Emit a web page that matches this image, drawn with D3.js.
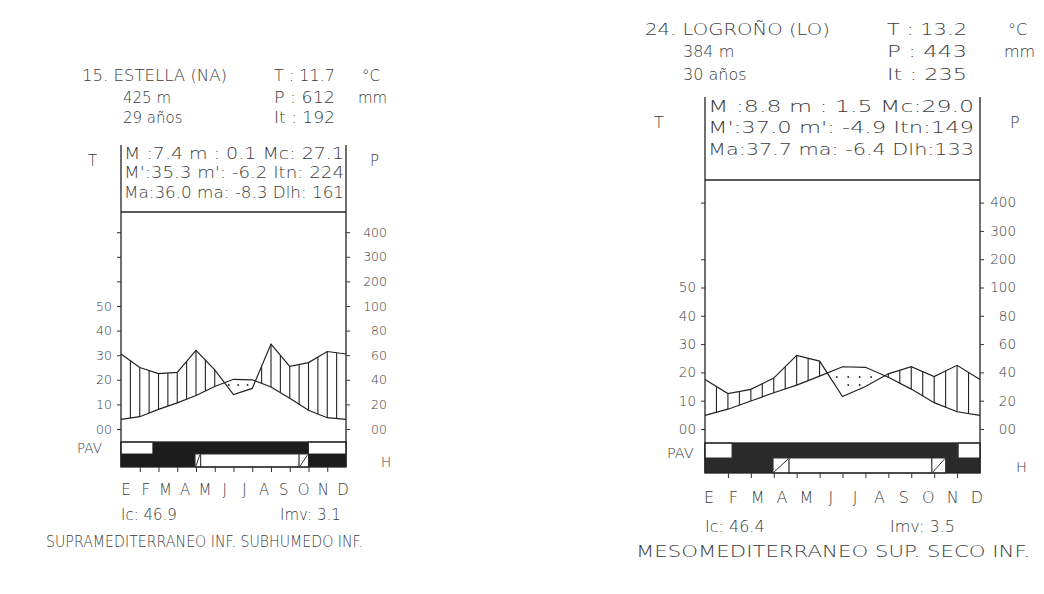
<!DOCTYPE html>
<html>
<head>
<meta charset="utf-8">
<script src="https://cdn.jsdelivr.net/npm/d3@7/dist/d3.min.js"></script>
<style>
body { margin: 0; background: #fff; }
svg text { font-family: "DejaVu Sans", sans-serif; font-weight: 200; fill: #3c3c3c; }
</style>
</head>
<body>
<div id="chart"></div>
<script>
// month letters (Spanish) and axis ticks
var months = ["E", "F", "M", "A", "M", "J", "J", "A", "S", "O", "N", "D"];
var tempTicks = [0, 10, 20, 30, 40, 50, 60, 70, 80];
var tempLabels = ["00", "10", "20", "30", "40", "50", "", "", ""];
var precTicks = [0, 20, 40, 60, 80, 100, 200, 300, 400];
var precLabels = ["00", "20", "40", "60", "80", "100", "200", "300", "400"];

// 15. Estella
var estellaTemp = [3.9, 5.0, 8.0, 10.6, 13.6, 17.3, 20.2, 20.0, 17.1, 12.5, 7.6, 4.6];
var estellaPrec = [61, 50, 45, 46, 64, 48, 28, 33, 69, 51, 54, 63];
var estellaHead = ["15. ESTELLA (NA)", "425 m", "29 años"];
var estellaStats = ["T : 11.7", "P : 612", "It : 192"];
var estellaBox = ["M :7.4  m : 0.1  Mc: 27.1", "M':35.3 m': -6.2 Itn: 224", "Ma:36.0 ma: -8.3 Dlh: 161"];
var estellaFoot = ["Ic: 46.9", "Imv: 3.1", "SUPRAMEDITERRANEO INF. SUBHUMEDO INF."];
// PAV row and frost row, in months: [from, to, kind]
var estellaPav = [[0, 1.7, "w"], [1.7, 10, "k"], [10, 12, "w"]];
var estellaFrost = [[0, 3.95, "k"], [3.95, 4.25, "h"], [4.25, 9.5, "w"], [9.5, 10, "h"], [10, 12, "k"]];

// 24. Logroño
var logronoTemp = [4.8, 7.0, 9.9, 12.8, 15.5, 18.7, 22.0, 21.8, 18.3, 14.1, 9.3, 6.1];
var logronoPrec = [35, 25, 28, 36, 52, 48, 23, 30, 39, 44, 37, 45];
var logronoHead = ["24. LOGROÑO (LO)", "384 m", "30 años"];
var logronoStats = ["T : 13.2", "P : 443", "It : 235"];
var logronoBox = ["M :8.8  m : 1.5  Mc:29.0", "M':37.0 m': -4.9 Itn:149", "Ma:37.7 ma: -6.4 Dlh:133"];
var logronoFoot = ["Ic: 46.4", "Imv: 3.5", "MESOMEDITERRANEO SUP. SECO INF."];
var logronoPav = [[0, 1.18, "w"], [1.18, 11.05, "k"], [11.05, 12, "w"]];
var logronoFrost = [[0, 2.97, "k"], [2.97, 3.67, "h"], [3.67, 9.9, "w"], [9.9, 10.5, "h"], [10.5, 12, "k"]];

var svg = d3.select("#chart").append("svg")
    .attr("width", 1044)
    .attr("height", 594);

function interp(vals, m) {
    var v = vals.concat([vals[0]]); // curve closes back on January
    var i = Math.min(Math.floor(m), 11);
    var f = m - i;
    return v[i] * (1 - f) + v[i + 1] * f;
}

function drawChart(c) {
    var g = svg.append("g");
    var x = d3.scaleLinear().domain([0, 12]).range([c.x0, c.x1]);
    var yT = d3.scaleLinear().domain([0, 80]).range([c.y0, c.y0 - 8 * c.step]);
    var yP = d3.scaleLinear().domain([0, 100, 400]).range([c.y0, c.y0 - 5 * c.step, c.y0 - 8 * c.step]);
    var fs = c.fs;

    // header texts
    function txt(s, tx, ty, size, len) {
        var t = g.append("text").attr("x", tx).attr("y", ty).style("font-size", size + "px").text(s);
        if (len) t.attr("textLength", len).attr("lengthAdjust", "spacingAndGlyphs");
        return t;
    }
    txt(c.head[0], c.titleX, c.rowY[0], fs, c.titleLen);
    txt(c.head[1], c.subX, c.rowY[1], fs);
    txt(c.head[2], c.subX, c.rowY[2], fs);
    c.stats.forEach(function(s, i) { txt(s, c.statX, c.rowY[i], fs, c.statLen); });
    txt("°C", c.unitX, c.rowY[0], fs);
    txt("mm", c.unitX - 4, c.rowY[1], fs);
    txt("T", c.tX, c.tY, fs);
    txt("P", c.pX, c.tY, fs);
    c.box.forEach(function(s, i) { txt(s, c.x0 + 3, c.boxY[i], fs, c.boxLen); });

    // frame
    var ln = function(x1, y1, x2, y2) {
        g.append("line").attr("x1", x1).attr("y1", y1).attr("x2", x2).attr("y2", y2)
            .attr("stroke", "#222").attr("stroke-width", 1.3);
    };
    ln(c.x0, c.boxTop, c.x0, c.barBot);
    ln(c.x1, c.boxTop, c.x1, c.barBot);
    ln(c.x0, c.headLine, c.x1, c.headLine);

    // hatching where precipitation is above temperature
    var half = [];
    for (var k = 1; k < 24; k++) half.push(k / 2);
    half.forEach(function(m) {
        var pt = yT(interp(c.temp, m)), pp = yP(interp(c.prec, m));
        if (pp < pt - 1) {
            g.append("line").attr("x1", x(m)).attr("x2", x(m)).attr("y1", pp).attr("y2", pt)
                .attr("stroke", "#222").attr("stroke-width", 1.1);
        }
    });
    // dots where temperature is above precipitation
    for (var m = 0.25; m < 12; m += 0.5) {
        var pt = yT(interp(c.temp, m)), pp = yP(interp(c.prec, m));
        for (var yy = c.y0 - 4; yy > pt; yy -= 8) {
            if (yy > pt + 3 && yy < pp - 3) {
                g.append("circle").attr("cx", x(m)).attr("cy", yy).attr("r", 1).attr("fill", "#333");
            }
        }
    }

    // curves
    var idx = d3.range(13);
    g.append("path")
        .attr("d", d3.line().x(function(i) { return x(i); }).y(function(i) { return yT(c.temp[i % 12]); })(idx))
        .attr("fill", "none").attr("stroke", "#222").attr("stroke-width", 1.2);
    g.append("path")
        .attr("d", d3.line().x(function(i) { return x(i); }).y(function(i) { return yP(c.prec[i % 12]); })(idx))
        .attr("fill", "none").attr("stroke", "#222").attr("stroke-width", 1.2);

    // axes
    var aL = g.append("g").attr("transform", "translate(" + c.x0 + ",0)")
        .call(d3.axisLeft(yT).tickValues(c.tTicks).tickSize(4).tickPadding(5)
            .tickFormat(function(d) { return tempLabels[tempTicks.indexOf(d)]; }));
    var aR = g.append("g").attr("transform", "translate(" + c.x1 + ",0)")
        .call(d3.axisRight(yP).tickValues(precTicks).tickSize(4)
            .tickFormat(function(d, i) { return precLabels[i]; }));
    [aL, aR].forEach(function(a) {
        a.select(".domain").remove();
        a.attr("font-family", null).attr("font-size", null).style("color", "#333");
        a.selectAll("text").style("font-size", c.afs + "px");
    });
    aR.selectAll("text").attr("x", c.pLabOff).attr("text-anchor", "end");

    // PAV and frost bars
    function bars(rows, y1, y2) {
        rows.forEach(function(r) {
            g.append("rect").attr("x", x(r[0])).attr("y", y1).attr("width", x(r[1]) - x(r[0])).attr("height", y2 - y1)
                .attr("fill", r[2] == "k" ? c.dark : "#fff").attr("stroke", r[2] == "k" ? "none" : "#333").attr("stroke-width", 1);
            if (r[2] == "h") {
                g.append("line").attr("x1", x(r[0]) + 1).attr("y1", y2 - 1).attr("x2", x(r[1]) - 1).attr("y2", y1 + 1)
                    .attr("stroke", "#333").attr("stroke-width", 1);
            }
        });
    }
    bars(c.pav, c.barTop, c.barMid);
    bars(c.frost, c.barMid, c.barBot);
    g.append("rect").attr("x", c.x0).attr("y", c.barTop).attr("width", c.x1 - c.x0).attr("height", c.barBot - c.barTop)
        .attr("fill", "none").attr("stroke", "#222").attr("stroke-width", 1.3);

    var aB = g.append("g").attr("transform", "translate(0," + c.barBot + ")")
        .call(d3.axisBottom(x).tickValues(d3.range(1, 12)).tickSize(5).tickFormat(""));
    aB.select(".domain").remove();
    aB.style("color", "#333");

    txt("PAV", c.pavX, c.pavY, c.afs + 1);
    txt("H", c.hX, c.hY, c.afs + 1);

    var xm = d3.scalePoint().domain(d3.range(12)).range([c.mx0, c.mx1]);
    g.selectAll(".mon").data(months).enter().append("text")
        .attr("x", function(d, i) { return xm(i); })
        .attr("y", c.monY)
        .attr("text-anchor", "middle")
        .style("font-size", (c.afs + 2.5) + "px")
        .text(function(d) { return d; });

    txt(c.foot[0], c.x0, c.icY, fs);
    txt(c.foot[1], c.imvX, c.icY, fs);
    txt(c.foot[2], c.clsX, c.clsY, fs, c.clsLen);
}

drawChart({
    temp: estellaTemp, prec: estellaPrec, head: estellaHead, stats: estellaStats, box: estellaBox,
    foot: estellaFoot, pav: estellaPav, frost: estellaFrost, tTicks: tempTicks,
    x0: 121, x1: 346, y0: 429, step: 24.6,
    boxTop: 145, headLine: 212, barTop: 442, barMid: 454, barBot: 467,
    fs: 15, afs: 12.5, dark: "#1c1c1c",
    titleX: 82, titleLen: 145, subX: 123, statX: 274, statLen: 61, unitX: 362, rowY: [81, 103, 123],
    tX: 88, pX: 370, tY: 166, boxY: [159, 178, 198], boxLen: 220,
    pLabOff: 41, pavX: 77, pavY: 453, hX: 381, hY: 467,
    mx0: 126, mx1: 343, monY: 495, icY: 520, imvX: 280, clsX: 46, clsY: 547, clsLen: 317
});

drawChart({
    temp: logronoTemp, prec: logronoPrec, head: logronoHead, stats: logronoStats, box: logronoBox,
    foot: logronoFoot, pav: logronoPav, frost: logronoFrost, tTicks: [0, 10, 20, 30, 40, 50, 60, 80],
    x0: 705, x1: 980, y0: 429, step: 28.3,
    boxTop: 97, headLine: 180, barTop: 443, barMid: 458, barBot: 473,
    fs: 16, afs: 13.5, dark: "#2a2a2a",
    titleX: 645, titleLen: 185, subX: 683, statX: 887, statLen: 80, unitX: 1008, rowY: [35, 57, 80],
    tX: 654, pX: 1010, tY: 128, boxY: [112, 133, 155], boxLen: 266,
    pLabOff: 36, pavX: 667, pavY: 458, hX: 1016, hY: 472,
    mx0: 709, mx1: 977, monY: 503, icY: 532, imvX: 890, clsX: 636, clsY: 557, clsLen: 394
});
</script>
</body>
</html>
